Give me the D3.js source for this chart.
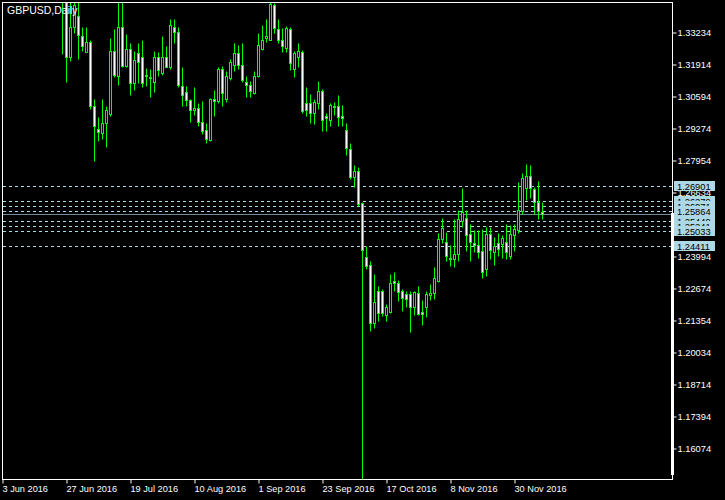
<!DOCTYPE html>
<html><head><meta charset="utf-8">
<script src="https://cdn.jsdelivr.net/npm/d3@7"></script>
<style>
html,body{margin:0;padding:0;background:#000;overflow:hidden;}
svg{display:block;}
text{font-family:"Liberation Sans",Arial,sans-serif;}
</style></head><body>
<svg id="c" width="725" height="500"></svg>
<script>
const title = "GBPUSD,Daily";
// trading days shown on the time axis (first candles are above the visible price range)
const days = [
"2016-06-03","2016-06-06","2016-06-07","2016-06-08","2016-06-09","2016-06-10","2016-06-13","2016-06-14","2016-06-15","2016-06-16",
"2016-06-17","2016-06-20","2016-06-21","2016-06-22","2016-06-23","2016-06-24","2016-06-27","2016-06-28","2016-06-29","2016-06-30",
"2016-07-01","2016-07-04","2016-07-05","2016-07-06","2016-07-07","2016-07-08","2016-07-11","2016-07-12","2016-07-13","2016-07-14",
"2016-07-15","2016-07-18","2016-07-19","2016-07-20","2016-07-21","2016-07-22","2016-07-25","2016-07-26","2016-07-27","2016-07-28",
"2016-07-29","2016-08-01","2016-08-02","2016-08-03","2016-08-04","2016-08-05","2016-08-08","2016-08-09","2016-08-10","2016-08-11",
"2016-08-12","2016-08-15","2016-08-16","2016-08-17","2016-08-18","2016-08-19","2016-08-22","2016-08-23","2016-08-24","2016-08-25",
"2016-08-26","2016-08-29","2016-08-30","2016-08-31","2016-09-01","2016-09-02","2016-09-05","2016-09-06","2016-09-07","2016-09-08",
"2016-09-09","2016-09-12","2016-09-13","2016-09-14","2016-09-15","2016-09-16","2016-09-19","2016-09-20","2016-09-21","2016-09-22",
"2016-09-23","2016-09-26","2016-09-27","2016-09-28","2016-09-29","2016-09-30","2016-10-03","2016-10-04","2016-10-05","2016-10-06",
"2016-10-07","2016-10-10","2016-10-11","2016-10-12","2016-10-13","2016-10-14","2016-10-17","2016-10-18","2016-10-19","2016-10-20",
"2016-10-21","2016-10-24","2016-10-25","2016-10-26","2016-10-27","2016-10-28","2016-10-31","2016-11-01","2016-11-02","2016-11-03",
"2016-11-04","2016-11-07","2016-11-08","2016-11-09","2016-11-10","2016-11-11","2016-11-14","2016-11-15","2016-11-16","2016-11-17",
"2016-11-18","2016-11-21","2016-11-22","2016-11-23","2016-11-24","2016-11-25","2016-11-28","2016-11-29","2016-11-30","2016-12-01",
"2016-12-02","2016-12-05","2016-12-06","2016-12-07","2016-12-08","2016-12-09"];
// candles from 24 Jun 2016 to 9 Dec 2016
const candleDays = days.slice(15);
const open = [
1.4877,1.3650,1.3222,1.3342,1.3390,1.3305,1.3239,1.3284,1.3020,1.2925,
1.2905,1.2946,1.2987,1.3247,1.3140,1.3342,1.3185,1.3255,1.3111,1.3235,
1.3222,1.3140,1.3132,1.3119,1.3222,1.3156,1.3222,1.3177,1.3346,1.3325,
1.3099,1.3074,1.3041,1.3000,1.3008,1.2954,1.2921,1.2876,1.3045,1.3037,
1.3169,1.3045,1.3132,1.3189,1.3235,1.3189,1.3119,1.3103,1.3070,1.3140,
1.3255,1.3297,1.3292,1.3433,1.3334,1.3292,1.3259,1.3334,1.3169,1.3222,
1.3239,1.3029,1.3029,1.2991,1.3029,1.3078,1.2975,1.2962,1.3016,1.3020,
1.2975,1.2921,1.2839,1.2727,1.2748,1.2620,1.2397,1.2364,1.2125,1.2253,
1.2257,1.2154,1.2170,1.2298,1.2290,1.2253,1.2241,1.2241,1.2187,1.2245,
1.2170,1.2191,1.2237,1.2245,1.2298,1.2468,1.2459,1.2393,1.2385,1.2406,
1.2542,1.2558,1.2492,1.2455,1.2443,1.2418,1.2344,1.2492,1.2414,1.2451,
1.2447,1.2459,1.2401,1.2484,1.2505,1.2587,1.2678,1.2731,1.2674,1.2624,
1.2579];
const high = [
1.5018,1.3706,1.3450,1.3490,1.3478,1.3342,1.3342,1.3292,1.3049,1.2971,
1.3049,1.3020,1.3297,1.3334,1.3481,1.3460,1.3317,1.3280,1.3243,1.3276,
1.3292,1.3173,1.3169,1.3243,1.3239,1.3305,1.3264,1.3375,1.3375,1.3346,
1.3177,1.3099,1.3049,1.3095,1.3029,1.3037,1.2946,1.3053,1.3086,1.3177,
1.3185,1.3161,1.3214,1.3276,1.3268,1.3280,1.3140,1.3123,1.3161,1.3321,
1.3354,1.3379,1.3446,1.3441,1.3379,1.3338,1.3350,1.3342,1.3243,1.3280,
1.3251,1.3095,1.3066,1.3049,1.3123,1.3090,1.2991,1.3029,1.3033,1.3062,
1.3024,1.2950,1.2864,1.2773,1.2765,1.2624,1.2439,1.2377,1.2327,1.2274,
1.2265,1.2203,1.2327,1.2335,1.2302,1.2265,1.2253,1.2253,1.2253,1.2274,
1.2216,1.2253,1.2282,1.2356,1.2496,1.2558,1.2500,1.2443,1.2550,1.2591,
1.2678,1.2591,1.2533,1.2505,1.2505,1.2509,1.2517,1.2517,1.2476,1.2496,
1.2484,1.2533,1.2529,1.2533,1.2703,1.2740,1.2777,1.2773,1.2686,1.2707,
1.2624];
const low = [
1.3231,1.3119,1.3202,1.3320,1.3210,1.3243,1.3239,1.3004,1.2793,1.2872,
1.2880,1.2847,1.2975,1.3136,1.3103,1.3181,1.3181,1.3062,1.3086,1.3115,
1.3095,1.3099,1.3057,1.3074,1.3140,1.3144,1.3177,1.3169,1.3280,1.3095,
1.3020,1.3020,1.2954,1.2983,1.2934,1.2901,1.2864,1.2872,1.2975,1.3029,
1.3020,1.3033,1.3127,1.3161,1.3169,1.3119,1.3057,1.3057,1.3066,1.3136,
1.3251,1.3284,1.3292,1.3321,1.3280,1.3239,1.3239,1.3165,1.3136,1.3181,
1.2991,1.2975,1.2946,1.2942,1.3004,1.2913,1.2913,1.2934,1.2979,1.2934,
1.2934,1.2814,1.2719,1.2686,1.2604,1.1480,1.2344,1.2088,1.2104,1.2133,
1.2150,1.2133,1.2165,1.2253,1.2212,1.2171,1.2191,1.2084,1.2154,1.2154,
1.2113,1.2146,1.2216,1.2220,1.2294,1.2455,1.2377,1.2360,1.2352,1.2377,
1.2521,1.2418,1.2377,1.2414,1.2393,1.2307,1.2315,1.2389,1.2364,1.2401,
1.2393,1.2385,1.2385,1.2418,1.2496,1.2571,1.2632,1.2637,1.2571,1.2550,
1.2550];
const close = [
1.3679,1.3222,1.3342,1.3433,1.3313,1.3264,1.3284,1.3020,1.2934,1.2909,
1.2946,1.3000,1.3247,1.3144,1.3342,1.3185,1.3255,1.3111,1.3206,1.3198,
1.3111,1.3144,1.3136,1.3222,1.3165,1.3222,1.3181,1.3354,1.3325,1.3103,
1.3062,1.3041,1.3000,1.3008,1.2954,1.2917,1.2880,1.3049,1.3037,1.3169,
1.3070,1.3140,1.3198,1.3235,1.3189,1.3127,1.3103,1.3078,1.3140,1.3268,
1.3292,1.3305,1.3440,1.3338,1.3292,1.3264,1.3338,1.3194,1.3235,1.3243,
1.2996,1.3000,1.2991,1.3033,1.3078,1.2962,1.2967,1.3024,1.3020,1.2971,
1.2967,1.2843,1.2727,1.2748,1.2612,1.2426,1.2360,1.2125,1.2208,1.2166,
1.2166,1.2187,1.2288,1.2290,1.2249,1.2228,1.2220,1.2187,1.2249,1.2162,
1.2162,1.2241,1.2245,1.2307,1.2468,1.2513,1.2401,1.2385,1.2406,1.2550,
1.2579,1.2484,1.2459,1.2443,1.2414,1.2335,1.2492,1.2426,1.2439,1.2430,
1.2472,1.2414,1.2492,1.2509,1.2591,1.2723,1.2731,1.2678,1.2624,1.2583,
1.2571];
const tickDates = ["2016-06-03","2016-06-27","2016-07-19","2016-08-10","2016-09-01","2016-09-23","2016-10-17","2016-11-08","2016-11-30"];
const tickLabels = ["3 Jun 2016","27 Jun 2016","19 Jul 2016","10 Aug 2016","1 Sep 2016","23 Sep 2016","17 Oct 2016","8 Nov 2016","30 Nov 2016"];
const priceTicks = [1.33234,1.31914,1.30594,1.29274,1.27954,1.26634,1.25314,1.23994,1.22674,1.21354,1.20034,1.18714,1.17394,1.16074];
const levels = [1.26901,1.26279,1.26071,1.25864,1.25449,1.25241,1.25033,1.24411];
const bid = 1.2571;

const svg = d3.select("#c");
svg.append("rect").attr("width",725).attr("height",500).attr("fill","#000");

const L = 2, T = 2, R = 672, B = 479;
const x = d3.scalePoint().domain(days).range([2, 2 + 4*(days.length-1)]);
const y = d3.scaleLinear().domain([1.16074, 1.33234]).range([448.5, 32.5]);
const row = p => Math.round(y(p) - 0.5);

svg.append("defs").append("clipPath").attr("id","clip")
  .append("rect").attr("x",L+1).attr("y",T+1).attr("width",R-L-1).attr("height",B-T-1);

// axes (drawn first so level labels cover them)
const yAxis = d3.axisRight(y).tickValues(priceTicks).tickSize(4).tickPadding(1)
  .tickFormat(d3.format(".5f"));
const gy = svg.append("g").attr("transform",`translate(${R+0.5},0)`).call(yAxis);
gy.select(".domain").remove();
gy.selectAll("line").attr("stroke","#fff");
gy.selectAll("text").attr("fill","#fff").style("font-family","'Liberation Sans', Arial, sans-serif").style("font-size","9.3px");

const xAxis = d3.axisBottom(x).tickValues(tickDates).tickSize(4).tickPadding(2)
  .tickFormat((d,i) => tickLabels[i]);
const gx = svg.append("g").attr("transform",`translate(0.5,${B+0.5})`).call(xAxis);
gx.select(".domain").remove();
gx.selectAll("line").attr("stroke","#fff");
gx.selectAll("text").attr("fill","#fff").attr("text-anchor","start").attr("x",-0.5)
  .style("font-family","'Liberation Sans', Arial, sans-serif").style("font-size","9.2px");

const plot = svg.append("g").attr("clip-path","url(#clip)");

// level lines
plot.selectAll("line.lvl").data(levels).join("line").attr("class","lvl")
  .attr("x1",L+1).attr("x2",R).attr("y1",d=>row(d)+0.5).attr("y2",d=>row(d)+0.5)
  .attr("stroke","#add8e6").attr("stroke-width",1).attr("stroke-dasharray","3,3");
// bid line
plot.append("line").attr("x1",L+1).attr("x2",R).attr("y1",row(bid)+0.5).attr("y2",row(bid)+0.5)
  .attr("stroke","#778899").attr("stroke-width",1);

// candles
const candles = candleDays.map((d,i)=>({d, o:open[i], h:high[i], l:low[i], c:close[i]}));
const cg = plot.selectAll("g.c").data(candles).join("g").attr("class","c");
cg.append("line")
  .attr("x1",d=>x(d.d)+0.5).attr("x2",d=>x(d.d)+0.5)
  .attr("y1",d=>row(d.h)+0.5).attr("y2",d=>row(d.l)+0.5)
  .attr("stroke","#00ff00").attr("stroke-width",1);
cg.append("rect")
  .attr("x",d=>x(d.d)-0.5).attr("width",2)
  .attr("y",d=>Math.min(row(d.o),row(d.c))+0.5)
  .attr("height",d=>Math.max(Math.abs(row(d.o)-row(d.c)),1))
  .attr("fill",d=>d.c>=d.o?"#000":"#fff")
  .attr("stroke","#00ff00").attr("stroke-width",1);

// frame
svg.append("rect").attr("x",L+0.5).attr("y",T+0.5).attr("width",R-L).attr("height",B-T)
  .attr("fill","none").attr("stroke","#fff").attr("stroke-width",1);
// thick segment on price axis
svg.append("rect").attr("x",R-1).attr("y",213).attr("width",3).attr("height",262).attr("fill","#fff");

// level labels
const lg = svg.selectAll("g.lab").data(levels).join("g").attr("class","lab")
  .attr("transform",d=>`translate(0,${row(d)})`);
lg.append("rect").attr("x",R+2).attr("y",-5).attr("width",41).attr("height",10).attr("fill","#add8e6");
lg.append("text").attr("x",R+5).attr("y",3.5).attr("fill","#000").style("font-size","9.3px").text(d=>d.toFixed(5));

// title
svg.append("text").attr("x",7).attr("y",14).attr("fill","#fff").style("font-size","10.5px").text(title);
</script>
</body></html>
